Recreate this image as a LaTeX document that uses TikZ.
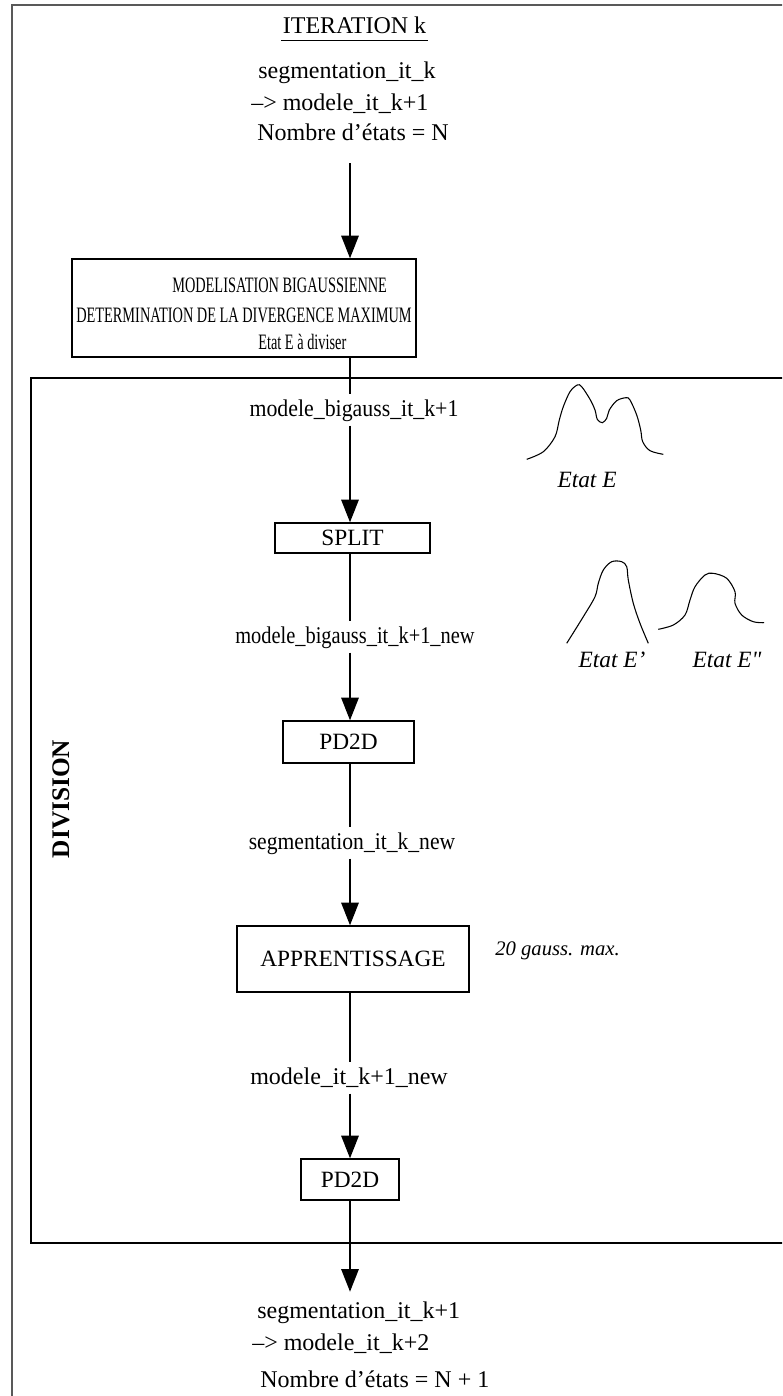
\documentclass[tikz,border=0pt]{standalone}
\usepackage{fontspec}
\setmainfont{Liberation Serif}
\usetikzlibrary{arrows.meta}
\begin{document}
\begin{tikzpicture}[x=0.75pt,y=-0.75pt,
  conn/.style={line width=1.5pt},
  arr/.style={conn,-{Triangle[length=17pt,width=13pt]}},
  stepbox/.style={draw,line width=1pt,inner sep=0pt,font=\fontsize{17.5}{21}\selectfont},
  lbl/.style={inner xsep=0pt,inner ysep=3pt,text height=13pt,text depth=4pt,font=\fontsize{18}{22}\selectfont,anchor=base},
  txt/.style={inner sep=0pt,font=\fontsize{18}{22}\selectfont,anchor=base west},
  boxtxt/.style={inner sep=0pt,font=\fontsize{16.5}{20}\selectfont,anchor=base west},
  etat/.style={inner sep=0pt,font=\fontsize{17.5}{21}\selectfont\itshape,anchor=base},
  curve/.style={line width=0.8pt,smooth,tension=0.55},
  frame/.style={line width=1.2pt,draw=black!65}
]
\useasboundingbox (0,0) rectangle (782,1396);
\clip (0,0) rectangle (782,1396);

% page frame and the DIVISION block
\draw[frame] (12,5) rectangle (820,1430);
\draw[line width=1.5pt] (31,378) rectangle (820,1243);
\node[rotate=90,font=\fontsize{19}{23}\selectfont\bfseries] (div) at (61,799) {DIVISION};

% vertical axis of the flow
\coordinate (axis) at (350,0);

% header
\node[anchor=base,inner xsep=1pt,inner ysep=5.25pt,text depth=0pt,font=\fontsize{18}{22}\selectfont] (it) at (354.5,33) {ITERATION k};
\draw[line width=1pt] (it.south west) -- (it.south east);
\node[txt] (t1) at (258,78) {segmentation\_it\_k};
\node[txt] (t2) at (251,110) {\textendash{}> modele\_it\_k+1};
\node[txt] (t3) at (257,140) {Nombre d'états = N};
\coordinate (a0) at (350,163);

% processing boxes
\node[stepbox,minimum width=258pt,minimum height=73.5pt] (box1) at (244,308) {};
\node[boxtxt] (m1) at (172,292) {\scalebox{0.652}[1]{MODELISATION BIGAUSSIENNE}};
\node[boxtxt] (m2) at (76,322) {\scalebox{0.652}[1]{DETERMINATION DE LA DIVERGENCE MAXIMUM}};
\node[boxtxt] (m3) at (258,349) {\scalebox{0.652}[1]{Etat E à diviser}};
\node[stepbox,minimum width=116.25pt,minimum height=22.5pt] (split) at (352.5,538) {SPLIT};
\node[stepbox,minimum width=98.25pt,minimum height=31.5pt] (pd1) at (348.5,742) {PD2D};
\node[stepbox,minimum width=174pt,minimum height=49.5pt] (appr) at (353,959) {APPRENTISSAGE};
\node[stepbox,minimum width=73.5pt,minimum height=30.75pt] (pd2) at (350,1179.5) {PD2D};

% labels on the connectors
\node[lbl] (l1) at (354,416) {\scalebox{0.91}[1]{modele\_bigauss\_it\_k+1}};
\node[lbl] (l2) at (355,643) {\scalebox{0.85}[1]{modele\_bigauss\_it\_k+1\_new}};
\node[lbl] (l3) at (352,849) {\scalebox{0.9}[1]{segmentation\_it\_k\_new}};
\node[lbl] (l4) at (349,1084) {modele\_it\_k+1\_new};

% footer
\node[txt,inner ysep=6.5pt,text height=13pt] (b1) at (257,1318) {segmentation\_it\_k+1};
\node[txt] (b2) at (252,1350) {\textendash{}> modele\_it\_k+2};
\node[txt] (b3) at (260,1387) {Nombre d'états = N + 1};

% connectors
\draw[arr] (a0) -- (box1.north -| axis);
\draw[conn] (box1.south -| axis) -- (l1.north -| axis);
\draw[arr] (l1.south -| axis) -- (split.north -| axis);
\draw[conn] (split.south -| axis) -- (l2.north -| axis);
\draw[arr] (l2.south -| axis) -- (pd1.north -| axis);
\draw[conn] (pd1.south -| axis) -- (l3.north -| axis);
\draw[arr] (l3.south -| axis) -- (appr.north -| axis);
\draw[conn] (appr.south -| axis) -- (l4.north -| axis);
\draw[arr] (l4.south -| axis) -- (pd2.north -| axis);
\draw[arr] (pd2.south -| axis) -- (b1.north -| axis);

% side note
\node[inner sep=0pt,anchor=base west,font=\fontsize{15.5}{18}\selectfont\itshape] (gm) at (495,955) {20 gauss. max.};

% state densities
\draw[curve] plot coordinates {(526.7,459.3) (543.3,451.7) (555,436.7) (559.3,420) (563.3,406.7) (570,391.7) (577.3,385) (581.7,386.7) (590,399.3) (595,410) (597.3,419.3) (602.3,422.7) (606.7,418.3) (609.3,410) (616.7,400.7) (626,397.7) (630,400) (636.7,415) (640.7,430) (642.7,441.7) (650,450.7) (663.3,454.3)};
\node[etat] (eE) at (587,487) {Etat E};

\draw[curve] plot coordinates {(566.7,643.3) (583.3,616.7) (595,596.7) (598.3,583.3) (603.3,570) (611.7,561.7) (621.7,561.7) (626.7,566.7) (628.3,580) (633.3,603.3) (640,623.3) (648.3,643.3)};
\node[etat] (eE1) at (612,667) {Etat E'};

\draw[curve] plot coordinates {(658.3,629.3) (673.3,625) (685,615) (690,600) (695,586.7) (705,575) (713.3,573.3) (726.7,578.3) (735,591.7) (735,603.3) (741.7,615) (753.3,621.7) (764,622.7)};
\node[etat] (eE2) at (727,667) {Etat E\textquotedbl};
\end{tikzpicture}
\end{document}
